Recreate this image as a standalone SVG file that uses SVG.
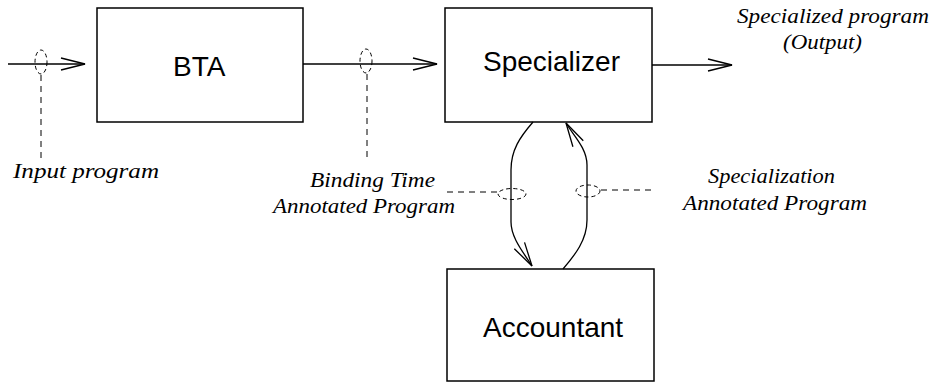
<svg xmlns="http://www.w3.org/2000/svg" width="935" height="383" viewBox="0 0 935 383">
  <defs>
    <marker id="open-arrow" viewBox="0 0 26 14" markerWidth="26" markerHeight="14" refX="25" refY="7" orient="auto" markerUnits="userSpaceOnUse">
      <path d="M1,1 L25,7 L1,13" fill="none" stroke="#000" stroke-width="1.3"/>
    </marker>
  </defs>
  <style>
    .box { fill: #fff; stroke: #000; stroke-width: 1.5; }
    .box-label { font-family: "Liberation Sans", Arial, sans-serif; font-size: 28px; fill: #000; }
    .flow { fill: none; stroke: #000; stroke-width: 1.3; marker-end: url(#open-arrow); }
    .leader { fill: none; stroke: #000; stroke-width: 1; stroke-dasharray: 6 5; }
    .tag { fill: none; stroke: #000; stroke-width: 1; stroke-dasharray: 4 3; }
    .note { font-family: "Liberation Serif", "Times New Roman", serif; font-style: italic; font-size: 22px; fill: #000; }
  </style>

  <rect width="935" height="383" fill="#fff"/>

  <!-- processing stages -->
  <g id="bta">
    <rect class="box" x="97" y="8" width="206" height="114"/>
    <text class="box-label" x="173" y="76">BTA</text>
  </g>
  <g id="specializer">
    <rect class="box" x="445" y="8" width="207" height="114"/>
    <text class="box-label" x="483" y="71">Specializer</text>
  </g>
  <g id="accountant">
    <rect class="box" x="447" y="269" width="207" height="112"/>
    <text class="box-label" x="483" y="337">Accountant</text>
  </g>

  <!-- data flow -->
  <g id="connectors">
    <line class="flow" x1="8" y1="64" x2="85" y2="64"/>
    <line class="flow" x1="303" y1="64" x2="437" y2="64"/>
    <line class="flow" x1="652" y1="65" x2="732" y2="65"/>
    <path class="flow" d="M533,122 C520,137 511,150 511,170 L511,222 C511,238 524,253 532,266"/>
    <path class="flow" d="M563,269 C575,255 587,240 587,220 L587,165 C587,148 573,135 566,123"/>
  </g>

  <!-- program tags: dashed loops on the flows with leaders to their labels -->
  <g id="annotations">
    <ellipse class="tag" cx="41" cy="62" rx="6" ry="12"/>
    <line class="leader" x1="41" y1="75" x2="41" y2="158"/>
    <ellipse class="tag" cx="366" cy="61" rx="6" ry="12"/>
    <line class="leader" x1="367" y1="74" x2="367" y2="162"/>
    <ellipse class="tag" cx="512" cy="194" rx="14" ry="5.5"/>
    <line class="leader" x1="447" y1="192" x2="497" y2="192"/>
    <ellipse class="tag" cx="588" cy="191" rx="12" ry="6"/>
    <line class="leader" x1="601" y1="190" x2="656" y2="190"/>
  </g>

  <g id="labels">
    <text class="note" x="13" y="178" textLength="146" lengthAdjust="spacingAndGlyphs">Input program</text>
    <text class="note" x="310" y="187" textLength="125" lengthAdjust="spacingAndGlyphs">Binding Time</text>
    <text class="note" x="273" y="213" textLength="182" lengthAdjust="spacingAndGlyphs">Annotated Program</text>
    <text class="note" x="708" y="183" textLength="127" lengthAdjust="spacingAndGlyphs">Specialization</text>
    <text class="note" x="683" y="210" textLength="184" lengthAdjust="spacingAndGlyphs">Annotated Program</text>
    <text class="note" x="737" y="23" textLength="192" lengthAdjust="spacingAndGlyphs">Specialized program</text>
    <text class="note" x="783" y="49" textLength="79" lengthAdjust="spacingAndGlyphs">(Output)</text>
  </g>
</svg>
